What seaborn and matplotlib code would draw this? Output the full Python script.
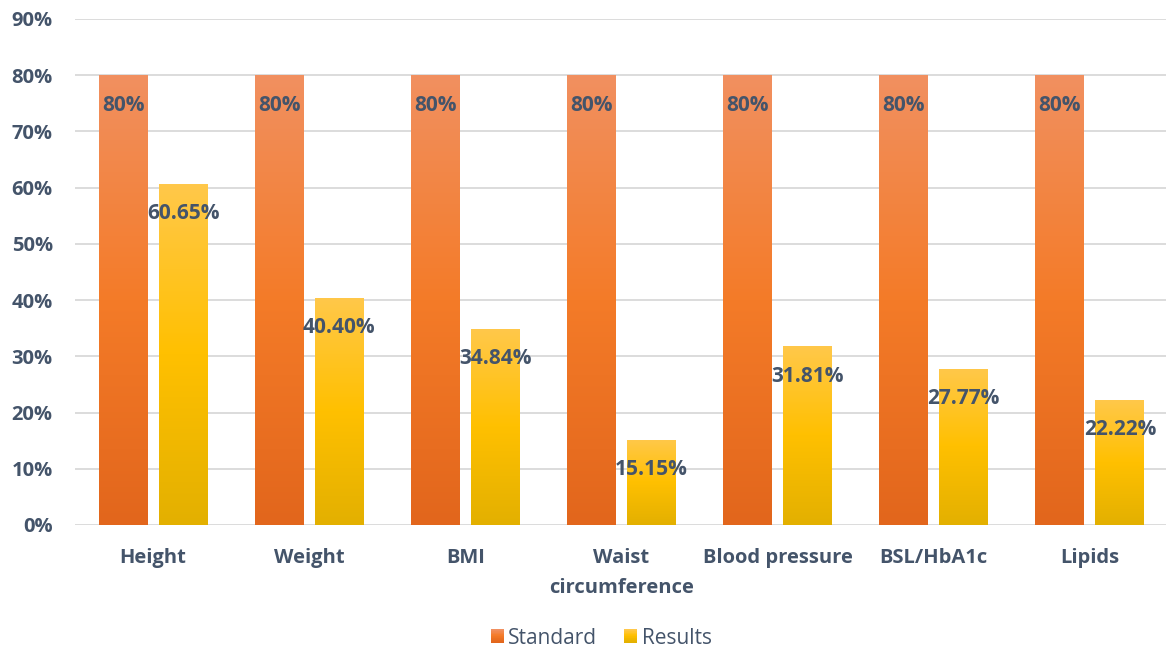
import numpy as np
import pandas as pd
import matplotlib
matplotlib.use("Agg")
import matplotlib.pyplot as plt
from matplotlib.colors import LinearSegmentedColormap
from matplotlib.patches import Rectangle
from matplotlib.legend_handler import HandlerBase
import seaborn as sns

categories = ["Height", "Weight", "BMI", "Waist\ncircumference",
              "Blood pressure", "BSL/HbA1c", "Lipids"]
standard = [80, 80, 80, 80, 80, 80, 80]
results = [60.65, 40.40, 34.84, 15.15, 31.81, 27.77, 22.22]
series = ["Standard", "Results"]
y_ticks = [0, 10, 20, 30, 40, 50, 60, 70, 80, 90]

df = pd.DataFrame({
    "category": categories * 2,
    "value": standard + results,
    "series": [series[0]] * len(categories) + [series[1]] * len(categories),
})

text_col = "#44546A"
gradients = {
    "Standard": ["#F19060", "#F47B28", "#E2661C"],
    "Results": ["#FFC84A", "#FFC000", "#E3B000"],
}
mid_cols = {k: v[1] for k, v in gradients.items()}

sns.set_theme(style="white")
plt.rcParams["font.family"] = ["Open Sans", "DejaVu Sans"]

fig = plt.figure(figsize=(11.66, 6.53), dpi=100)
ax = fig.add_axes([75 / 1166, 128 / 653, (1168 - 75) / 1166, (525 - 19) / 653])

sns.barplot(data=df, x="category", y="value", hue="series", hue_order=series,
            palette=mid_cols, width=0.77, gap=0.185, ax=ax, legend=False,
            errorbar=None, saturation=1)

# Replace flat fills with vertical gradients and label each bar
n = len(categories)
bars = [p for p in ax.patches if isinstance(p, Rectangle) and p.get_height() > 0]
for i, bar in enumerate(bars):
    key = series[0] if i < n else series[1]
    cmap = LinearSegmentedColormap.from_list(key, gradients[key][::-1])
    x0, y0 = bar.get_x(), bar.get_y()
    w, h = bar.get_width(), bar.get_height()
    grad = np.linspace(0, 1, 256).reshape(-1, 1)
    im = ax.imshow(grad, cmap=cmap, origin="lower", aspect="auto",
                   extent=[x0, x0 + w, y0, y0 + h], zorder=2)
    im.set_clip_path(bar)
    bar.set_facecolor("none")
    bar.set_edgecolor("none")
    val = standard[i] if i < n else results[i - n]
    label = f"{val:.0f}%" if i < n else f"{val:.2f}%"
    ax.annotate(label, (x0 + w / 2, y0 + h), xytext=(0, -21.5),
                textcoords="offset points", ha="center", va="center",
                fontsize=15, fontweight="bold", color=text_col, zorder=4)

ax.set_xlim(-0.5, len(categories) - 0.5)
ax.set_ylim(0, 90)
ax.set_yticks(y_ticks)
ax.set_yticklabels([f"{t}%" for t in y_ticks])
ax.yaxis.grid(True, color="#D9D9D9", linewidth=1.3)
ax.set_axisbelow(True)
for s in ax.spines.values():
    s.set_visible(False)
ax.tick_params(axis="both", length=0, labelsize=14.5, labelcolor=text_col)
ax.tick_params(axis="y", pad=16)
ax.tick_params(axis="x", pad=16.5)
for lab in ax.get_xticklabels() + ax.get_yticklabels():
    lab.set_fontweight("bold")
for lab in ax.get_xticklabels():
    lab.set_linespacing(1.65)
ax.set_xlabel("")
ax.set_ylabel("")


class GradientHandler(HandlerBase):
    def __init__(self, colors):
        super().__init__()
        self.colors = colors

    def create_artists(self, legend, orig_handle, xdescent, ydescent,
                       width, height, fontsize, trans):
        arts = []
        size = 13 * 72 / 100
        k = 20
        cmap = LinearSegmentedColormap.from_list("g", self.colors)
        y_base = -ydescent + (height - size) / 2
        for j in range(k):
            t = j / (k - 1)
            r = Rectangle((xdescent + (width - size) / 2, y_base + size * (1 - (j + 1) / k)),
                          size, size / k + 0.3, facecolor=cmap(t), edgecolor="none",
                          transform=trans)
            arts.append(r)
        return arts


handles = [Rectangle((0, 0), 1, 1) for _ in series]
leg = fig.legend(handles, series, loc="center", ncol=2, frameon=False,
                 fontsize=15, handlelength=0.65, handletextpad=0.2,
                 columnspacing=1.3,
                 handler_map={handles[0]: GradientHandler(gradients["Standard"]),
                              handles[1]: GradientHandler(gradients["Results"])})
for t in leg.get_texts():
    t.set_color(text_col)
leg.set_bbox_to_anchor((601 / 1166, 1 - 638 / 653), transform=fig.transFigure)

fig.savefig("out.png", dpi=100)
